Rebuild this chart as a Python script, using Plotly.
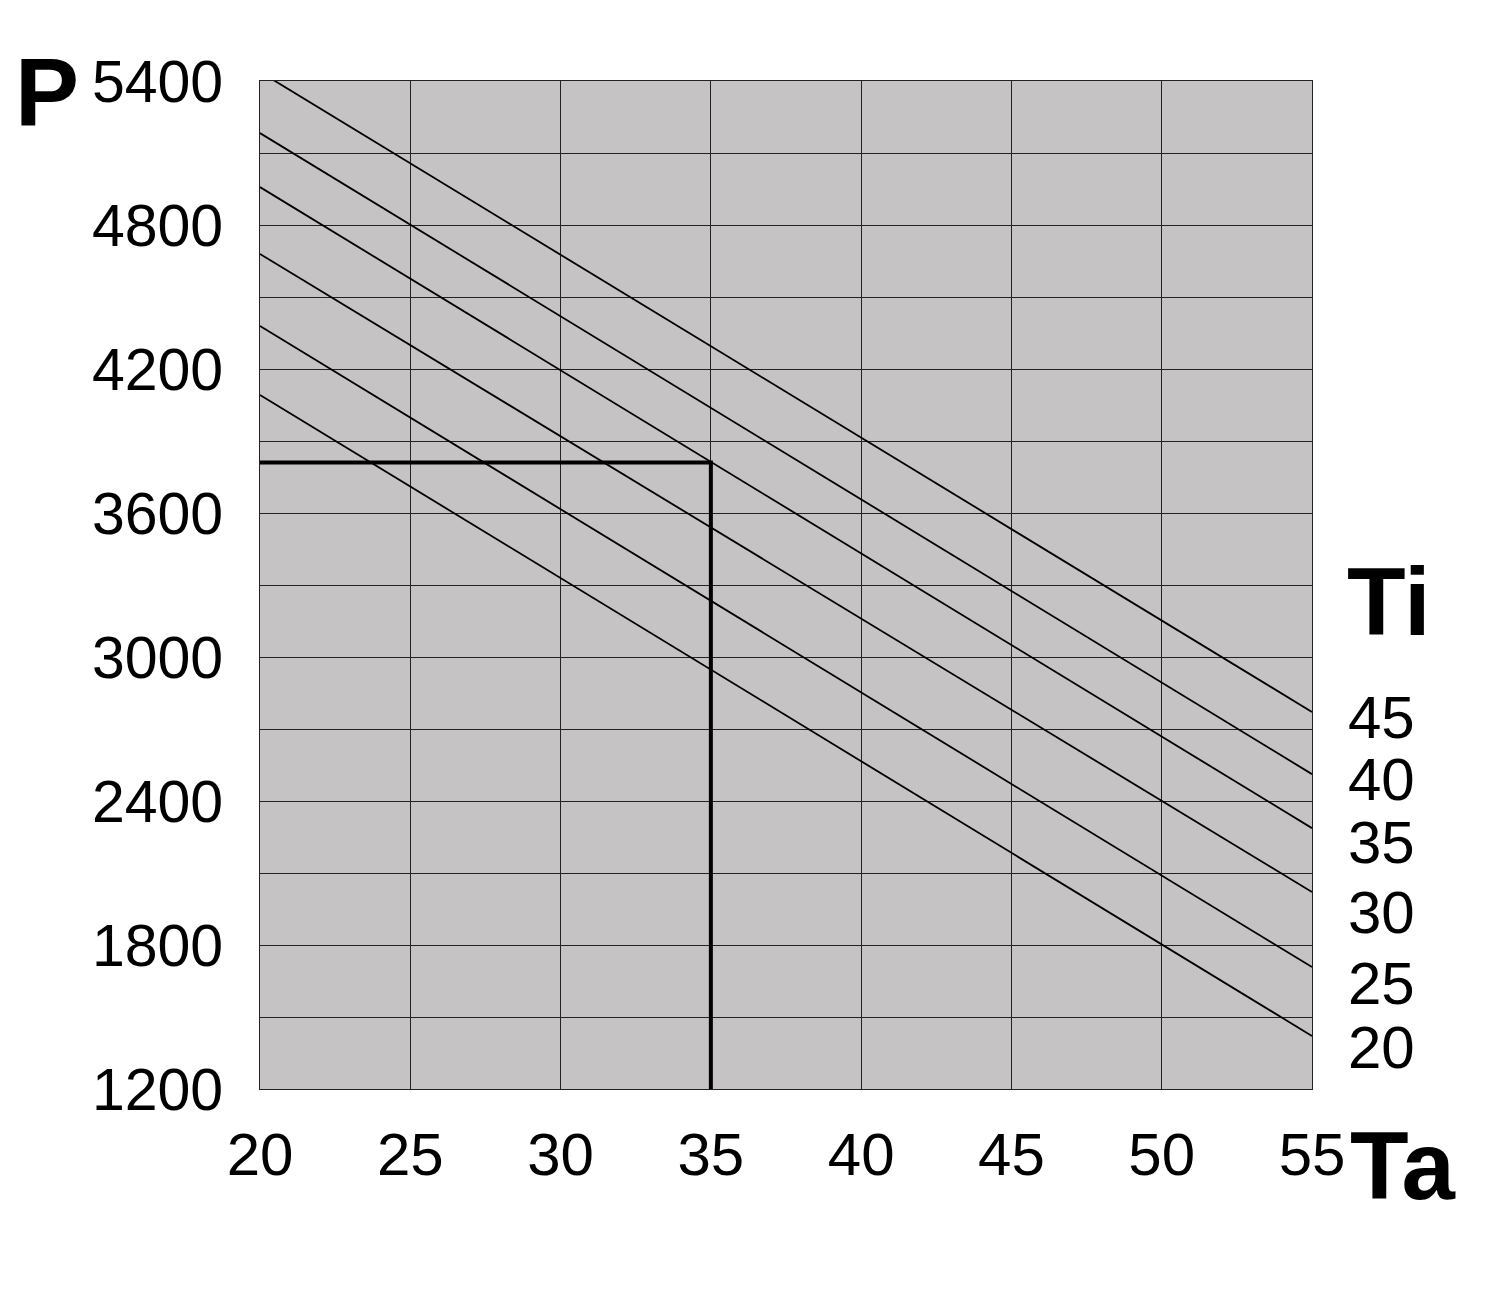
import plotly.graph_objects as go

# Data
ti_values = [20, 25, 30, 35, 40, 45]
ta_range = [20, 55]
p_at_ta20 = [4092, 4379, 4679, 4958, 5183, 5438]
p_at_ta55 = [1421, 1708, 2021, 2287, 2512, 2771]

example_ta = 35
example_p = 3810

x_ticks = [20, 25, 30, 35, 40, 45, 50, 55]
y_ticks = [1200, 1800, 2400, 3000, 3600, 4200, 4800, 5400]

W, H = 1500, 1299
OFF = 8  # page body margin
L, T = 260 - OFF, 81 - OFF
PW, PH = 1052, 1008
R = W - L - PW
B = H - T - PH
FONT = "Liberation Sans, Arial, sans-serif"

fig = go.Figure()

for ti, p0, p1 in zip(ti_values, p_at_ta20, p_at_ta55):
    fig.add_trace(go.Scatter(
        x=ta_range, y=[p0, p1], mode="lines",
        line=dict(color="black", width=1.8),
        name=f"Ti {ti}", showlegend=False, hoverinfo="skip"))

fig.add_trace(go.Scatter(
    x=[ta_range[0], example_ta, example_ta],
    y=[example_p, example_p, y_ticks[0]],
    mode="lines", line=dict(color="black", width=4),
    showlegend=False, hoverinfo="skip"))

fig.update_xaxes(
    range=[x_ticks[0], x_ticks[-1]], tickvals=x_ticks,
    showgrid=True, gridcolor="#222222", gridwidth=1,
    showline=True, linecolor="#222222", linewidth=1, mirror=True,
    zeroline=False, ticks="", ticklabelstandoff=13,
    tickfont=dict(family=FONT, size=60, color="black"))
fig.update_yaxes(
    range=[y_ticks[0], y_ticks[-1]], tickvals=y_ticks,
    showgrid=True, gridcolor="#222222", gridwidth=1,
    minor=dict(dtick=300, showgrid=True, gridcolor="#222222", gridwidth=1),
    showline=True, linecolor="#222222", linewidth=1, mirror=True,
    zeroline=False, ticks="", ticklabelstandoff=24,
    tickfont=dict(family=FONT, size=59, color="black"))

def px_to_paper(px, py):
    # px, py are screen coordinates in the photographed page
    return (px - OFF - L) / PW, (H - B - (py - OFF)) / PH

annotations = []
# axis letters
for text, (cx, cy) in [("P", (47, 92)), ("Ti", (1389, 602)), ("Ta", (1403, 1165))]:
    xp, yp = px_to_paper(cx, cy)
    annotations.append(dict(text=f"<b>{text}</b>", x=xp, y=yp, xref="paper", yref="paper",
                            xanchor="center", yanchor="middle", showarrow=False,
                            font=dict(family=FONT, size=96, color="black")))
# Ti labels
ti_label_py = [1047, 983, 912, 842, 779, 717]
for ti, py in zip(ti_values, ti_label_py):
    xp, yp = px_to_paper(1346, py)
    annotations.append(dict(text=str(ti), x=xp, y=yp, xref="paper", yref="paper",
                            xanchor="left", yanchor="middle", showarrow=False,
                            font=dict(family=FONT, size=60, color="black")))

fig.update_layout(
    width=W, height=H,
    margin=dict(l=L, r=R, t=T, b=B),
    plot_bgcolor="#c5c3c3", paper_bgcolor="white",
    annotations=annotations, showlegend=False)

fig.write_html("out.html")
